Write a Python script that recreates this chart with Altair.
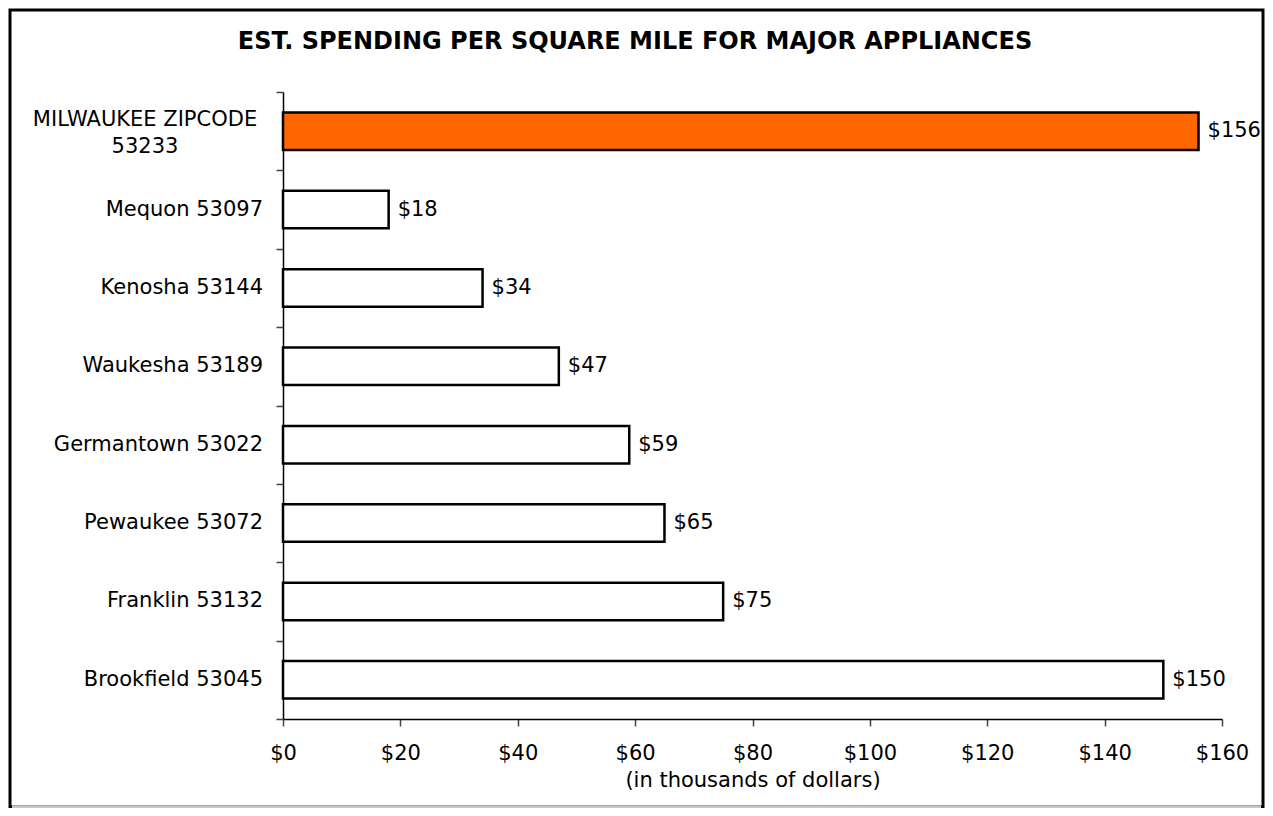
import altair as alt
import pandas as pd

title_text = "EST. SPENDING PER SQUARE MILE FOR MAJOR APPLIANCES"
categories = ["MILWAUKEE ZIPCODE 53233", "Mequon 53097", "Kenosha 53144", "Waukesha 53189",
              "Germantown 53022", "Pewaukee 53072", "Franklin 53132", "Brookfield 53045"]
labels = ["MILWAUKEE ZIPCODE\n53233", "Mequon 53097", "Kenosha 53144", "Waukesha 53189",
          "Germantown 53022", "Pewaukee 53072", "Franklin 53132", "Brookfield 53045"]
values = [156, 18, 34, 47, 59, 65, 75, 150]
fills = ["#FF6600", "#FFFFFF", "#FFFFFF", "#FFFFFF", "#FFFFFF", "#FFFFFF", "#FFFFFF", "#FFFFFF"]
x_ticks = [0, 20, 40, 60, 80, 100, 120, 140, 160]
x_title = "(in thousands of dollars)"

FONT = "DejaVu Sans"
FS = 21

df = pd.DataFrame({"cat": categories, "label": labels, "value": values, "fill": fills})

y_enc = alt.Y(
    "cat:N", sort=categories,
    scale=alt.Scale(paddingInner=0, paddingOuter=0),
    axis=alt.Axis(title=None, labels=False, tickBand="extent", ticks=True, tickSize=7,
                  tickColor="#444444", tickWidth=1.5, domainColor="#000000", domainWidth=1.5),
)
x_enc = alt.X(
    "value:Q",
    scale=alt.Scale(domain=[0, 160], nice=False),
    axis=alt.Axis(values=x_ticks, format="$.0f", title=x_title, grid=False, tickSize=7,
                  tickColor="#444444", tickWidth=1.5, domainColor="#000000", domainWidth=1.5,
                  labelFont=FONT, labelFontSize=FS, labelColor="#000000", labelPadding=16,
                  labelFlush=False,
                  titleFont=FONT, titleFontSize=FS, titleFontWeight="normal", titleColor="#000000",
                  titlePadding=6),
)

base = alt.Chart(df)

bars = base.mark_bar(height=alt.RelativeBandSize(band=0.48), stroke="#000000", strokeWidth=2.5).encode(
    y=y_enc, x=x_enc, fill=alt.Fill("fill:N", scale=None)
)

value_text = base.mark_text(align="left", baseline="middle", dx=9, font=FONT, fontSize=FS, color="#000000").encode(
    y=y_enc, x=x_enc, text=alt.Text("value:Q", format="$.0f")
)

cat_text = base.transform_filter(alt.datum.cat != categories[0]).mark_text(
    align="right", baseline="middle", font=FONT, fontSize=FS, color="#000000"
).encode(y=y_enc, x=alt.value(-20), text="label:N")

cat_text_wrapped = base.transform_filter(alt.datum.cat == categories[0]).mark_text(
    align="center", baseline="middle", font=FONT, fontSize=FS, color="#000000",
    lineBreak="\n", lineHeight=27, dy=-11
).encode(y=y_enc, x=alt.value(-138), text="label:N")

title_mark = alt.Chart(pd.DataFrame({"t": [title_text]})).mark_text(
    align="center", baseline="alphabetic", font=FONT, fontSize=24, fontWeight="bold", color="#000000"
).encode(text="t:N", x=alt.value(352), y=alt.value(-43))

frame = alt.Chart(pd.DataFrame({"a": [0]})).mark_rect(
    filled=False, stroke="#000000", strokeWidth=3
).encode(x=alt.value(-273), x2=alt.value(980), y=alt.value(-82), y2=alt.value(715))

frame_bottom = alt.Chart(pd.DataFrame({"a": [0]})).mark_rule(
    stroke="#C8C8C8", strokeWidth=3
).encode(x=alt.value(-271), x2=alt.value(978), y=alt.value(715))

chart = alt.layer(frame, frame_bottom, bars, value_text, cat_text, cat_text_wrapped, title_mark).properties(
    width=939, height=627,
    autosize=alt.AutoSizeParams(type="none"),
    padding={"left": 275, "top": 84, "right": 43, "bottom": 89},
    background="#FFFFFF",
).configure_view(strokeWidth=0)

chart.save("out.html", embed_options={"renderer": "svg", "actions": False})
